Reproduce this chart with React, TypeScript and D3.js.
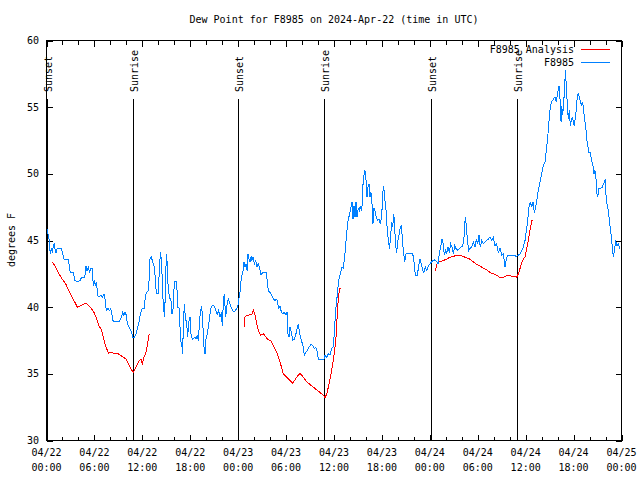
import React from "react";
import * as d3 from "d3";

// Observed dew point (hours since 2024-04-22 00:00 UTC, degrees F)
const obsHours = [
  0.0, 0.31, 0.4, 0.48, 0.6, 0.73, 0.85, 0.98, 1.06, 1.19, 1.35, 1.85, 1.98, 2.19, 2.73, 2.86, 2.98, 3.36, 3.57, 3.86,
  4.19, 4.36, 4.78, 4.95, 5.07, 5.23, 5.41, 5.53, 5.74, 5.86, 5.99, 6.11, 6.24, 6.41, 6.57, 6.79, 6.99, 7.2, 7.36, 7.49,
  7.7, 7.91, 8.04, 8.2, 8.36, 8.67, 9.08, 9.37, 9.54, 9.67, 9.83, 9.99, 10.12, 10.33, 10.54, 10.67, 10.79, 10.96, 11.21, 11.37,
  11.58, 11.8, 12.0, 12.21, 12.33, 12.5, 12.71, 12.87, 12.96, 13.12, 13.3, 13.46, 13.62, 13.75, 14.0, 14.17, 14.3, 14.43, 14.63, 14.8,
  14.93, 15.05, 15.21, 15.38, 15.59, 15.72, 15.88, 16.0, 16.3, 16.43, 16.59, 16.72, 16.84, 16.97, 17.05, 17.13, 17.26, 17.38, 17.56, 17.68,
  17.81, 17.97, 18.09, 18.26, 18.56, 18.72, 18.88, 19.01, 19.13, 19.26, 19.43, 19.56, 19.72, 19.85, 19.97, 20.14, 20.26, 20.39, 20.56, 20.76,
  20.97, 21.22, 21.39, 21.56, 21.73, 21.89, 22.01, 22.14, 22.26, 22.44, 22.56, 22.76, 22.98, 23.19, 23.39, 23.6, 23.82, 24.02, 24.14, 24.27,
  24.36, 24.48, 24.61, 24.73, 24.86, 24.98, 25.11, 25.23, 25.36, 25.48, 25.61, 25.73, 25.86, 26.02, 26.2, 26.36, 26.52, 26.7, 26.86, 27.07,
  27.49, 27.65, 27.77, 27.99, 28.2, 28.4, 28.61, 28.83, 28.95, 29.11, 29.24, 29.36, 29.53, 29.78, 29.99, 30.12, 30.2, 30.37, 30.49, 30.7,
  30.83, 31.03, 31.2, 31.37, 31.53, 31.71, 31.87, 32.12, 32.28, 32.46, 32.66, 32.87, 33.12, 33.37, 33.53, 33.71, 33.87, 34.04, 34.75, 34.87,
  35.09, 35.29, 35.5, 35.71, 35.88, 36.0, 36.13, 36.25, 36.38, 36.5, 36.63, 36.75, 36.88, 37.0, 37.17, 37.29, 37.42, 37.54, 37.67, 37.79,
  37.97, 38.13, 38.26, 38.38, 38.51, 38.63, 38.76, 38.88, 39.04, 39.17, 39.29, 39.42, 39.54, 39.67, 39.79, 39.88, 40.01, 40.13, 40.26, 40.38,
  40.51, 40.63, 40.76, 40.88, 41.01, 41.13, 41.3, 41.47, 41.64, 41.8, 41.97, 42.1, 42.22, 42.35, 42.47, 42.6, 42.72, 42.85, 42.92, 43.05,
  43.23, 43.35, 43.48, 43.6, 43.68, 43.85, 43.98, 44.14, 44.3, 44.43, 44.55, 44.68, 44.85, 45.02, 45.86, 46.02, 46.18, 46.43, 46.61, 46.77,
  46.93, 47.11, 47.27, 47.43, 47.61, 47.81, 48.02, 48.23, 48.43, 48.65, 48.86, 49.02, 49.19, 49.36, 49.53, 49.69, 49.81, 49.99, 50.11, 50.28,
  50.44, 50.61, 50.78, 50.94, 51.11, 51.28, 51.49, 51.69, 51.9, 52.12, 52.28, 52.44, 52.57, 52.69, 52.87, 53.03, 53.24, 53.44, 53.66, 53.82,
  53.99, 54.16, 54.32, 54.5, 54.7, 54.91, 55.12, 55.32, 55.53, 55.74, 55.95, 56.17, 56.37, 56.57, 56.79, 57.0, 57.2, 57.41, 57.63, 57.83,
  58.45, 58.88, 59.29, 59.5, 59.7, 59.92, 60.13, 60.26, 60.42, 60.58, 60.76, 60.92, 61.08, 61.26, 61.42, 61.58, 61.8, 62.01, 62.21, 62.42,
  62.58, 62.76, 62.92, 63.08, 63.26, 63.46, 63.67, 63.84, 64.01, 64.18, 64.3, 64.43, 64.51, 64.64, 64.76, 64.89, 64.96, 65.09, 65.21, 65.34,
  65.46, 65.59, 65.72, 65.84, 65.97, 66.09, 66.22, 66.34, 66.47, 66.59, 66.72, 66.84, 66.97, 67.09, 67.22, 67.34, 67.52, 67.64, 67.77, 67.93,
  68.09, 68.27, 68.43, 68.56, 68.68, 68.81, 68.9, 69.02, 69.15, 69.35, 69.6, 69.85, 69.97, 70.1, 70.27, 70.44, 70.56, 70.69, 70.85, 70.98,
  71.1, 71.28, 71.44, 71.6, 71.81,
];
const obsDew = [
  46.0, 45.15, 44.5, 44.0, 44.4, 44.1, 44.6, 44.8, 44.4, 44.1, 44.4, 44.4, 44.1, 43.6, 43.6, 43.1, 42.6, 42.6, 42.0, 41.9,
  42.0, 42.2, 42.2, 43.1, 42.75, 43.0, 42.6, 42.9, 42.9, 41.6, 42.0, 41.6, 41.9, 40.9, 40.75, 40.9, 40.75, 41.0, 40.5, 39.75,
  39.9, 39.75, 39.9, 39.4, 38.9, 38.9, 38.9, 39.25, 39.6, 39.4, 39.6, 39.4, 38.75, 38.5, 38.25, 38.1, 37.7, 37.7, 38.0, 38.4,
  38.9, 39.6, 39.9, 39.9, 40.5, 41.1, 41.2, 42.2, 43.6, 43.75, 43.4, 43.1, 42.2, 41.0, 41.0, 43.4, 44.1, 43.0, 40.0, 39.25,
  42.75, 44.0, 41.75, 40.75, 40.5, 39.5, 40.0, 41.9, 41.9, 40.0, 40.0, 38.5, 37.4, 37.0, 36.5, 38.6, 40.25, 39.25, 38.75, 37.75,
  38.9, 39.25, 38.0, 37.6, 37.75, 37.6, 37.9, 37.5, 38.6, 39.6, 40.1, 38.9, 37.0, 36.5, 37.6, 38.0, 38.5, 39.1, 39.9, 40.1,
  40.1, 39.75, 39.45, 39.75, 39.25, 39.6, 38.6, 40.25, 41.0, 39.25, 40.0, 40.6, 40.25, 39.9, 39.7, 39.7, 39.9, 40.25, 40.9, 41.25,
  42.0, 42.4, 42.75, 43.4, 43.0, 43.25, 42.75, 44.0, 43.6, 43.4, 43.8, 43.5, 43.75, 43.25, 43.5, 43.0, 43.25, 42.9, 42.4, 42.6,
  42.6, 42.0, 41.25, 41.1, 40.9, 40.6, 40.5, 40.6, 40.25, 39.9, 40.1, 39.75, 39.5, 39.6, 39.4, 39.6, 38.1, 37.75, 38.5, 38.0,
  37.5, 37.6, 37.9, 38.4, 38.75, 38.0, 37.6, 37.1, 36.4, 36.6, 36.75, 37.0, 37.2, 37.1, 36.9, 37.0, 36.7, 36.1, 36.1, 36.4,
  36.25, 36.5, 36.4, 36.9, 37.0, 37.75, 39.0, 40.0, 40.75, 41.5, 42.1, 42.4, 42.75, 43.0, 42.9, 43.6, 44.25, 45.25, 46.0, 46.6,
  47.0, 47.5, 47.9, 46.6, 47.6, 46.75, 47.9, 46.75, 47.4, 47.25, 47.6, 47.25, 47.75, 49.75, 50.0, 50.25, 49.5, 48.25, 49.0, 49.25,
  48.25, 48.6, 47.75, 46.25, 47.4, 47.25, 46.75, 46.5, 46.6, 46.25, 46.75, 48.5, 49.1, 48.1, 47.75, 46.4, 45.4, 45.0, 44.4, 45.0,
  46.4, 46.0, 47.0, 46.25, 44.75, 44.1, 44.9, 45.4, 46.0, 46.1, 45.25, 44.25, 43.4, 44.0, 44.0, 43.4, 42.4, 42.4, 43.1, 43.6,
  43.25, 42.75, 42.6, 43.0, 42.75, 43.1, 43.25, 43.4, 43.5, 43.55, 43.4, 43.25, 44.0, 44.5, 45.1, 44.75, 43.9, 44.25, 44.0, 44.5,
  44.1, 44.75, 44.5, 44.0, 44.6, 44.4, 44.25, 44.4, 44.5, 44.6, 45.25, 46.75, 46.1, 45.1, 44.25, 44.4, 44.5, 44.9, 44.5, 45.1,
  44.75, 45.4, 44.5, 45.0, 44.75, 44.9, 45.0, 45.1, 45.25, 45.0, 45.25, 44.6, 44.75, 44.1, 44.4, 43.9, 44.0, 43.0, 43.75, 43.9,
  43.9, 43.8, 44.0, 44.25, 44.5, 45.0, 45.9, 46.6, 47.5, 47.9, 47.5, 47.9, 47.1, 47.5, 48.1, 48.75, 49.4, 50.0, 50.6, 50.9,
  51.75, 52.75, 53.9, 55.0, 55.4, 55.6, 55.75, 55.4, 56.1, 56.6, 55.6, 53.9, 55.1, 54.4, 55.4, 56.4, 57.75, 56.6, 55.25, 54.1,
  54.75, 53.6, 54.0, 54.25, 53.9, 53.6, 54.25, 54.75, 55.9, 56.0, 55.75, 55.5, 55.1, 55.4, 55.1, 54.25, 53.6, 52.6, 52.1, 51.6,
  51.6, 51.0, 50.6, 50.0, 50.25, 49.6, 48.6, 48.25, 48.9, 48.9, 49.0, 49.4, 49.6, 47.9, 47.6, 46.75, 46.1, 45.5, 44.5, 43.75,
  44.25, 45.0, 44.6, 44.75, 44.4,
];

// Analysis dew point; null marks a gap between analysis runs
const anaHours = [
  0.73, 1.15, 1.57, 1.98, 2.4, 2.82, 3.23, 3.66, 3.86, 4.28, 4.61, 4.91, 5.32, 5.74, 5.95, 6.29, 6.57, 6.91, 7.33, 7.74,
  8.16, 8.58, 8.87, 9.2, 9.62, 9.95, 10.24, 10.54, 10.87, 11.3, 11.62, 11.83, 12.0, 12.21, 12.46, 12.62, 12.87, null,
  24.77, 24.86, 25.27, 25.7, 25.9, 26.11, 26.32, 26.52, 26.82, 27.15, 27.49, 27.77, 28.07, 28.4, 28.83, 29.24, 29.65, 30.08, 30.49, 30.83,
  31.33, 31.74, 32.16, 32.58, 33.0, 33.41, 33.83, 34.25, 34.66, 34.87, 35.09, 35.29, 35.5, 35.71, 35.91, 36.13, 36.25, 36.34, 36.46, 36.59,
  36.75, 36.88, null,
  48.69, 48.86, 49.19, 49.69, 50.11, 50.53, 50.94, 51.37, 51.78, 52.19, 52.62, 53.03, 53.44, 53.87, 54.28, 54.7, 55.12, 55.53, 55.95, 56.37,
  56.79, 57.2, 57.63, 58.04, 58.45, 58.88, 59.08, 59.29, 59.5, 59.7, 59.92, 60.13, 60.33, 60.54, 60.76, 60.88,
];
const anaDew = [
  43.4, 43.0, 42.5, 42.1, 41.75, 41.2, 40.7, 40.25, 40.0, 40.1, 40.2, 40.3, 40.1, 39.8, 39.6, 39.1, 38.6, 38.25, 37.25, 36.55,
  36.6, 36.5, 36.55, 36.4, 36.25, 36.1, 35.75, 35.4, 35.1, 35.6, 36.0, 36.1, 35.75, 36.25, 36.6, 37.1, 38.0, null,
  38.5, 39.3, 39.4, 39.45, 39.8, 39.4, 38.75, 38.25, 37.9, 38.0, 37.75, 37.55, 37.5, 37.1, 36.6, 35.9, 35.0, 34.75, 34.5, 34.3,
  34.75, 35.05, 34.75, 34.4, 34.2, 34.0, 33.8, 33.6, 33.4, 33.2, 33.5, 34.0, 34.6, 35.25, 36.0, 37.0, 37.75, 38.75, 40.0, 41.0,
  41.4, 41.4, null,
  42.7, 43.2, 43.4, 43.5, 43.6, 43.75, 43.8, 43.9, 43.9, 43.8, 43.7, 43.6, 43.4, 43.2, 43.1, 42.9, 42.8, 42.6, 42.5, 42.4,
  42.2, 42.25, 42.35, 42.35, 42.3, 42.25, 42.5, 42.9, 43.3, 43.6, 43.75, 44.4, 45.0, 45.75, 46.5, 46.55,
];

const sunLabels = ["Sunset", "Sunrise", "Sunset", "Sunrise", "Sunset", "Sunrise"];
const sunHours = [0.03, 10.87, 24.02, 34.79, 48.11, 58.88];

const yTicks = [30, 35, 40, 45, 50, 55, 60];
const xTickHours = [0, 6, 12, 18, 24, 30, 36, 42, 48, 54, 60, 66, 72];
const xTickDates = ["04/22", "04/22", "04/22", "04/22", "04/23", "04/23", "04/23", "04/23", "04/24", "04/24", "04/24", "04/24", "04/25"];
const xTickTimes = ["00:00", "06:00", "12:00", "18:00", "00:00", "06:00", "12:00", "18:00", "00:00", "06:00", "12:00", "18:00", "00:00"];
const xMinorHours = d3.range(0, 73, 2);

const title = "Dew Point for F8985 on 2024-Apr-22 (time in UTC)";
const yLabel = "degrees F";
const seriesNames = ["F8985 Analysis", "F8985"];

const FONT = "'DejaVu Sans Mono', monospace";
const BLUE = "#0080ff";
const RED = "#ff0000";

export default function App() {
  const x = d3.scaleLinear().domain([0, 72]).range([46.5, 621.5]);
  const y = d3.scaleLinear().domain([30, 60]).range([440.5, 40.5]);
  const left = x(0), right = x(72), top = y(60), bottom = y(30);

  const obs = obsHours.map((h, i) => [h, obsDew[i]] as [number, number]);
  const ana = anaHours.map((h, i) => [h, anaDew[i]] as [any, any]);

  const line = d3
    .line<[any, any]>()
    .defined((d) => d[0] != null && d[1] != null)
    .x((d) => x(d[0]))
    .y((d) => y(d[1]));

  const tick = 4;

  return (
    <svg
      width={640}
      height={480}
      style={{ position: "fixed", left: 0, top: 0, background: "#fff" }}
      fontFamily={FONT}
      fontSize={10}
    >
      <rect x={0} y={0} width={640} height={480} fill="#fff" />
      <text x={(left + right) / 2} y={23} textAnchor="middle" fill="#000">
        {title}
      </text>

      {/* ticks */}
      <g stroke="#000" strokeWidth={1} shapeRendering="crispEdges">
        {yTicks.map((t) => (
          <g key={"y" + t}>
            <line x1={left} x2={left + tick + 2} y1={Math.round(y(t)) + 0.5} y2={Math.round(y(t)) + 0.5} />
            <line x1={right} x2={right - tick - 2} y1={Math.round(y(t)) + 0.5} y2={Math.round(y(t)) + 0.5} />
          </g>
        ))}
        {xMinorHours.map((h) => {
          const major = h % 6 === 0;
          const len = major ? tick + 2 : tick;
          const xx = Math.round(x(h)) + 0.5;
          return (
            <g key={"x" + h}>
              <line x1={xx} x2={xx} y1={bottom} y2={bottom - len} />
              <line x1={xx} x2={xx} y1={top} y2={top + len} />
            </g>
          );
        })}
      </g>

      {/* sunrise / sunset markers */}
      {sunHours.map((h, i) => {
        const xx = Math.round(x(h)) + 0.5;
        return (
          <g key={"s" + i}>
            <line x1={xx} x2={xx} y1={99} y2={bottom} stroke="#000" strokeWidth={1} shapeRendering="crispEdges" />
            <text transform={`translate(${xx + 4.5},92) rotate(-90)`} textAnchor="start" fill="#000">
              {sunLabels[i]}
            </text>
          </g>
        );
      })}

      {/* y tick labels */}
      {yTicks.map((t) => (
        <text key={"yl" + t} x={39} y={y(t) + 3.6} textAnchor="end" fill="#000">
          {t}
        </text>
      ))}
      {/* x tick labels */}
      {xTickHours.map((h, i) => (
        <g key={"xl" + h}>
          <text x={x(h)} y={455.6} textAnchor="middle" fill="#000">
            {xTickDates[i]}
          </text>
          <text x={x(h)} y={470.6} textAnchor="middle" fill="#000">
            {xTickTimes[i]}
          </text>
        </g>
      ))}
      <text transform="translate(14.5,240) rotate(-90)" textAnchor="middle" fill="#000">
        {yLabel}
      </text>

      {/* data */}
      <path d={line(ana) || ""} fill="none" stroke={RED} strokeWidth={1} shapeRendering="crispEdges" />
      <path d={line(obs) || ""} fill="none" stroke={BLUE} strokeWidth={1} shapeRendering="crispEdges" />

      {/* legend */}
      <text x={574} y={52.8} textAnchor="end" fill="#000">
        {seriesNames[0]}
      </text>
      <line x1={581} x2={610} y1={49.5} y2={49.5} stroke={RED} strokeWidth={1} shapeRendering="crispEdges" />
      <text x={574} y={66} textAnchor="end" fill="#000">
        {seriesNames[1]}
      </text>
      <line x1={581} x2={610} y1={62.5} y2={62.5} stroke={BLUE} strokeWidth={1} shapeRendering="crispEdges" />

      {/* border */}
      <rect x={left} y={top} width={right - left} height={bottom - top} fill="none" stroke="#000" strokeWidth={1} shapeRendering="crispEdges" />
    </svg>
  );
}
